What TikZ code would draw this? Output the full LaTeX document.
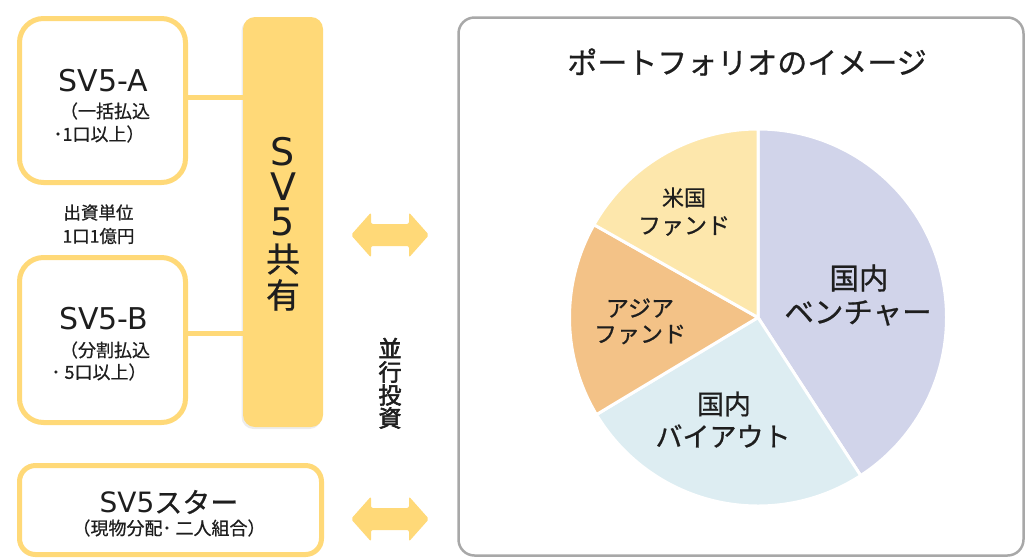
\documentclass[tikz,border=0pt]{standalone}
\usepackage{fontspec}
\setmainfont{Noto Sans CJK JP}[FakeBold=0.7]
\newfontfamily\latf{DejaVu Sans}
\newfontfamily\jpbold[FakeBold=2.5]{Noto Sans CJK JP}
\usetikzlibrary{shadows}
\definecolor{sunY}{HTML}{FFD978}
\definecolor{panelG}{HTML}{A8A8A8}
\definecolor{txt}{HTML}{1E1E1E}
\definecolor{venC}{HTML}{D1D4EA}
\definecolor{buyC}{HTML}{DDEDF2}
\definecolor{asiaC}{HTML}{F3C287}
\definecolor{usC}{HTML}{FDE7AC}
\newcommand{\setfs}[1]{\fontsize{#1}{#1}\selectfont}
\begin{document}
\begin{tikzpicture}[x=1pt,y=-1pt,
  shade/.style={drop shadow={opacity=0.15, shadow xshift=-1.5pt, shadow yshift=-2pt}},
  ybox/.style={draw=sunY, line width=5pt, fill=white, inner sep=0pt, shade},
  ybar/.style={fill=sunY, inner sep=0pt, rounded corners=12pt, shade},
  panel/.style={draw=panelG, line width=2.5pt, fill=white, inner sep=0pt, rounded corners=16pt},
  link/.style={draw=sunY, line width=5pt},
  t/.style={text=txt, inner sep=0pt, anchor=center},
  slice/.style={draw=white, line width=3pt, line join=round},
  bigarrow/.style={fill=sunY, rounded corners=2pt}]
\useasboundingbox (0,0) rectangle (1027,558);

% right panel
\node[panel, minimum width=565pt, minimum height=538pt] (P) at (741,286.5) {};

% left boxes
\node[ybox, rounded corners=24pt, minimum width=166pt, minimum height=164pt] (A) at (102.5,100.5) {};
\node[ybox, rounded corners=24pt, minimum width=166pt, minimum height=165pt] (B) at (102.5,340) {};
\node[ybox, rounded corners=16pt, minimum width=302pt, minimum height=89pt] (C) at (170.5,510) {};
\node[ybar, minimum width=80pt, minimum height=410pt] (S) at (283,222) {};

% connectors
\coordinate (a1) at ([yshift=3.5pt]A.east);
\coordinate (b1) at ([yshift=7pt]B.east);
\draw[link] (a1) -- (a1 -| S.west);
\draw[link] (b1) -- (b1 -| S.west);

% texts in boxes
\node[t, font=\latf\setfs{30}] (tA) at (103.5,81) {SV5-A};
\node[t, font=\setfs{18}] (tA1) at (105,111) {（一括払込};
\node[t, font=\setfs{18}] (tA2) at (99,134) {･1口以上）};
\node[t, font=\setfs{17.5}] (u1) at (98.5,212.5) {出資単位};
\node[t, font=\setfs{17.5}] (u2) at (98.5,236) {1口1億円};
\node[t, font=\latf\setfs{30}] (tB) at (103.5,319) {SV5-B};
\node[t, font=\setfs{18}] (tB1) at (105,350) {（分割払込};
\node[t, font=\setfs{18}] (tB2) at (99,372) {･ 5口以上）};
\node[t, font=\setfs{28}] (tC) at (169,502) {{\latf SV5}スター};
\node[t, font=\setfs{18}] (tC1) at (169,528) {（現物分配･ 二人組合）};

% vertical SV5共有
\node[t, font=\latf\setfs{38}] (s1) at (283,152) {S};
\node[t, font=\latf\setfs{38}] (s2) at (283,187) {V};
\node[t, font=\latf\setfs{38}] (s3) at (283,222) {5};
\node[t, font=\setfs{34}] (s4) at (283,259) {共};
\node[t, font=\setfs{34}] (s5) at (283,295) {有};

% double arrows
\foreach \cy in {235,519}{
  \fill[bigarrow] (351,\cy) -- (371,\cy-22.5) -- (371,\cy-11) -- (409,\cy-11) -- (409,\cy-22.5)
    -- (429,\cy) -- (409,\cy+22.5) -- (409,\cy+11) -- (371,\cy+11) -- (371,\cy+22.5) -- cycle;
}

% 並行投資
\node[t, font=\jpbold\setfs{23}] (p1) at (390,348) {並};
\node[t, font=\jpbold\setfs{23}] (p2) at (390,372) {行};
\node[t, font=\jpbold\setfs{23}] (p3) at (390,395) {投};
\node[t, font=\jpbold\setfs{23}] (p4) at (390,418) {資};

% title
\node[t, font=\setfs{30}] (title) at (747,62) {ポートフォリオのイメージ};

% pie
\begin{scope}[shift={(758,317.5)}, y=1pt]
  \filldraw[slice, fill=venC] (0,0) -- (90:188.5) arc[start angle=90, end angle=-57, radius=188.5] -- cycle;
  \filldraw[slice, fill=buyC] (0,0) -- (-57:188.5) arc[start angle=-57, end angle=-149, radius=188.5] -- cycle;
  \filldraw[slice, fill=asiaC] (0,0) -- (211:188.5) arc[start angle=211, end angle=150.5, radius=188.5] -- cycle;
  \filldraw[slice, fill=usC] (0,0) -- (150.5:188.5) arc[start angle=150.5, end angle=90, radius=188.5] -- cycle;
\end{scope}

% pie labels
\node[t, font=\setfs{29.5}] (v1) at (859,278) {国内};
\node[t, font=\setfs{29.5}] (v2) at (858,313) {ベンチャー};
\node[t, font=\setfs{27}] (b1t) at (724,404) {国内};
\node[t, font=\setfs{27}] (b2t) at (723,436) {バイアウト};
\node[t, font=\setfs{23}] (as1) at (640,308) {アジア};
\node[t, font=\setfs{23}] (as2) at (640,334.5) {ファンド};
\node[t, font=\setfs{22}] (us1) at (684,197.5) {米国};
\node[t, font=\setfs{23}] (us2) at (684,226) {ファンド};
\end{tikzpicture}
\end{document}
